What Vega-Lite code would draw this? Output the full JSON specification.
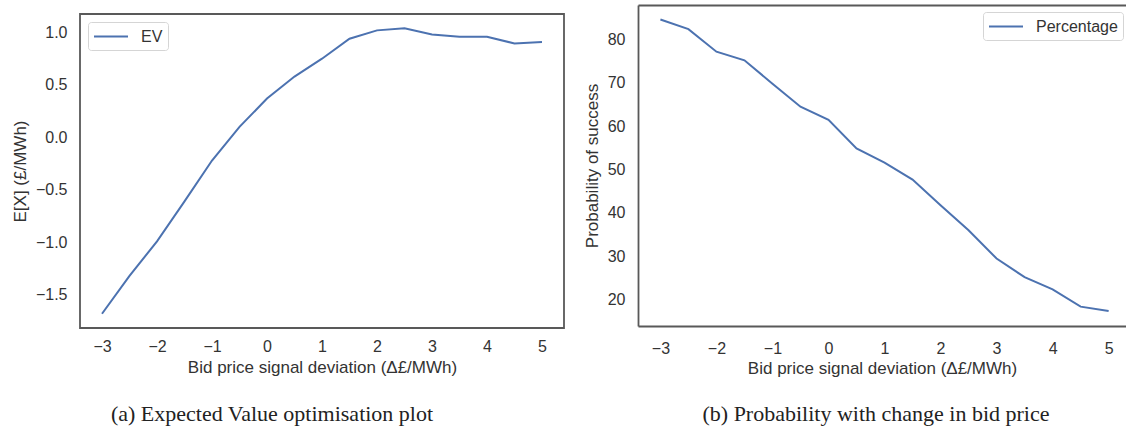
{
  "$schema": "https://vega.github.io/schema/vega-lite/v6.json",
  "padding": {"left": 10, "top": 5, "right": 0, "bottom": 0},
  "spacing": 18,
  "background": "white",
  "resolve": {"scale": {"color": "independent"}, "legend": {"color": "independent"}},
  "config": {
    "view": {"stroke": null},
    "font": "Liberation Sans",
    "axis": {
      "labelFont": "Liberation Sans",
      "titleFont": "Liberation Sans",
      "labelFontSize": 16,
      "titleFontSize": 17,
      "titleFontWeight": "normal",
      "labelColor": "#333333",
      "titleColor": "#333333",
      "ticks": false,
      "grid": false,
      "domain": false,
      "domainColor": "#595959",
      "domainWidth": 1.8
    },
    "axisX": {"labelPadding": 10, "titlePadding": 5},
    "axisY": {"labelPadding": 13, "titlePadding": 6},
    "legend": {
      "title": null,
      "strokeColor": "#d5d5d5",
      "fillColor": "white",
      "cornerRadius": 3,
      "padding": 5,
      "symbolType": "M-1,0H3",
      "symbolSize": 289,
      "symbolStrokeWidth": 2,
      "labelFontSize": 16,
      "labelFont": "Liberation Sans",
      "labelColor": "#333333",
      "labelOffset": 29
    },
    "title": {"font": "Liberation Serif", "fontSize": 22, "fontWeight": "normal", "color": "#222222"}
  },
  "hconcat": [
    {
      "spacing": 7,
      "resolve": {"scale": {"color": "independent"}, "legend": {"color": "independent"}},
      "vconcat": [
        {
          "width": 484,
          "height": 1,
          "data": {"values": []},
          "mark": "point",
          "encoding": {}
        },
        {
          "width": 484,
          "height": 314,
          "view": {"stroke": "#595959", "strokeWidth": 1.8},
          "title": {"text": "(a) Expected Value optimisation plot", "orient": "bottom", "anchor": "middle", "dx": -50, "offset": 29},
          "data": {"values": [
            {"x": -3, "ev": -1.68, "series": "EV"},
            {"x": -2.5, "ev": -1.32, "series": "EV"},
            {"x": -2, "ev": -0.99, "series": "EV"},
            {"x": -1.5, "ev": -0.61, "series": "EV"},
            {"x": -1, "ev": -0.22, "series": "EV"},
            {"x": -0.5, "ev": 0.1, "series": "EV"},
            {"x": 0, "ev": 0.37, "series": "EV"},
            {"x": 0.5, "ev": 0.58, "series": "EV"},
            {"x": 1, "ev": 0.75, "series": "EV"},
            {"x": 1.5, "ev": 0.94, "series": "EV"},
            {"x": 2, "ev": 1.02, "series": "EV"},
            {"x": 2.5, "ev": 1.04, "series": "EV"},
            {"x": 3, "ev": 0.98, "series": "EV"},
            {"x": 3.5, "ev": 0.96, "series": "EV"},
            {"x": 4, "ev": 0.96, "series": "EV"},
            {"x": 4.5, "ev": 0.895, "series": "EV"},
            {"x": 5, "ev": 0.91, "series": "EV"}
          ]},
          "mark": {"type": "line", "strokeWidth": 2},
          "encoding": {
            "x": {"field": "x", "type": "quantitative", "scale": {"domain": [-3.4, 5.4], "nice": false, "zero": false},
                  "axis": {"title": "Bid price signal deviation (Δ£/MWh)", "values": [-3, -2, -1, 0, 1, 2, 3, 4, 5]}},
            "y": {"field": "ev", "type": "quantitative", "scale": {"domain": [-1.816, 1.176], "nice": false, "zero": false},
                  "axis": {"title": "E[X] (£/MWh)", "values": [-1.5, -1, -0.5, 0, 0.5, 1], "format": ".1f"}},
            "color": {"field": "series", "type": "nominal", "scale": {"range": ["#4C72B0"]},
                      "legend": {"orient": "top-left", "offset": 8}}
          }
        }
      ]
    },
    {
      "width": 488,
      "height": 321,
      "title": {"text": "(b) Probability with change in bid price", "orient": "bottom", "anchor": "middle", "dx": -6, "offset": 28},
      "data": {"values": [
        {"x": -3, "p": 84.6, "series": "Percentage"},
        {"x": -2.5, "p": 82.4, "series": "Percentage"},
        {"x": -2, "p": 77.2, "series": "Percentage"},
        {"x": -1.5, "p": 75.2, "series": "Percentage"},
        {"x": -1, "p": 69.8, "series": "Percentage"},
        {"x": -0.5, "p": 64.5, "series": "Percentage"},
        {"x": 0, "p": 61.5, "series": "Percentage"},
        {"x": 0.5, "p": 54.9, "series": "Percentage"},
        {"x": 1, "p": 51.6, "series": "Percentage"},
        {"x": 1.5, "p": 47.7, "series": "Percentage"},
        {"x": 2, "p": 41.8, "series": "Percentage"},
        {"x": 2.5, "p": 36.0, "series": "Percentage"},
        {"x": 3, "p": 29.5, "series": "Percentage"},
        {"x": 3.5, "p": 25.2, "series": "Percentage"},
        {"x": 4, "p": 22.4, "series": "Percentage"},
        {"x": 4.5, "p": 18.4, "series": "Percentage"},
        {"x": 5, "p": 17.4, "series": "Percentage"}
      ]},
      "encoding": {
        "y": {"field": "p", "type": "quantitative", "scale": {"domain": [13.94, 87.96], "nice": false, "zero": false},
              "axis": {"title": "Probability of success", "values": [20, 30, 40, 50, 60, 70, 80], "domain": true}}
      },
      "resolve": {"axis": {"x": "independent"}},
      "layer": [
        {
          "mark": {"type": "line", "strokeWidth": 2},
          "encoding": {
            "x": {"field": "x", "type": "quantitative", "scale": {"domain": [-3.4, 5.31], "nice": false, "zero": false},
                  "axis": {"title": "Bid price signal deviation (Δ£/MWh)", "values": [-3, -2, -1, 0, 1, 2, 3, 4, 5], "domain": true, "labelPadding": 14, "titlePadding": 4}},
            "color": {"field": "series", "type": "nominal", "scale": {"range": ["#4C72B0"]},
                      "legend": {"orient": "none", "legendX": 345, "legendY": 7}}
          }
        },
        {
          "mark": {"type": "line", "opacity": 0},
          "encoding": {
            "x": {"field": "x", "type": "quantitative",
                  "axis": {"orient": "top", "labels": false, "ticks": false, "domain": true, "labelPadding": 0, "title": null}}
          }
        }
      ]
    }
  ]
}
